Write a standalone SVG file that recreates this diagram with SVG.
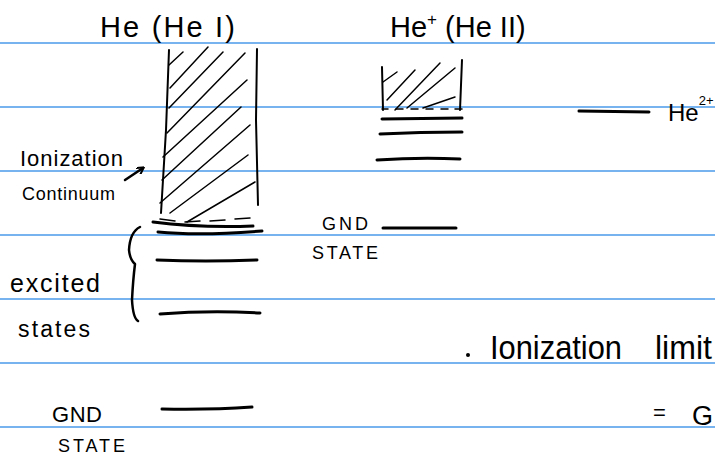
<svg xmlns="http://www.w3.org/2000/svg" width="715" height="458" viewBox="0 0 715 458">
<style>
.rule{stroke:#4a9ae8;stroke-width:1.5}
.ink{stroke:#000;fill:none;stroke-linecap:round;stroke-linejoin:round}
.thin{stroke-width:1.5}
.lvl{stroke-width:3}
.t{font-family:"Liberation Sans",Arial,sans-serif;fill:#000}
.big{font-size:29px}
.mid{font-size:22px}
.sm{font-size:18px}
</style>
<defs>
<marker id="ah" markerWidth="8" markerHeight="8" refX="6" refY="4" orient="auto" markerUnits="userSpaceOnUse">
<path d="M0,0 L7,4 L0,8" fill="none" stroke="#000" stroke-width="2"/>
</marker>
</defs>
<rect width="715" height="458" fill="#fff"/>
<g id="rules">
<line class="rule" x1="0" y1="43" x2="715" y2="43"/>
<line class="rule" x1="0" y1="107" x2="715" y2="107"/>
<line class="rule" x1="0" y1="171" x2="715" y2="171"/>
<line class="rule" x1="0" y1="235" x2="715" y2="235"/>
<line class="rule" x1="0" y1="299" x2="715" y2="299"/>
<line class="rule" x1="0" y1="363" x2="715" y2="363"/>
<line class="rule" x1="0" y1="427" x2="715" y2="427"/>
</g>
<g id="heI-title"><text class="t big" x="100" y="37" textLength="135" lengthAdjust="spacing">He (He I)</text></g>
<g id="heII-title"><text class="t big" x="390" y="37">He<tspan font-size="17" dy="-12">+</tspan><tspan dy="12"> (He II)</tspan></text></g>
<g id="heI-continuum" class="ink">
<path stroke-width="2" d="M169,50 L166,130 L161,213"/>
<path stroke-width="2" d="M257,49 L256,120 L258,205"/>
<path class="thin" d="M169,65 L183,52 M170,88 L208,47 M169,108 L223,52 M167,133 L245,53 M163,157 L247,80 M162,180 L241,107 M160,203 L250,125 M170,213 L248,155 M187,222 L255,182"/>
<path class="thin" d="M160,219 L175,221 M185,222 L200,221 M210,221 L225,220 M235,219 L250,218"/>
</g>
<g id="heI-levels" class="ink">
<path class="lvl" d="M153,222 Q200,228 253,226"/>
<path class="lvl" d="M158,232 Q200,236 262,231"/>
<path class="lvl" d="M157,260 Q205,262 257,260"/>
<path class="lvl" d="M160,314 Q210,310 260,313"/>
<path class="lvl" d="M162,409 Q210,410 252,407"/>
</g>
<g id="brace" class="ink"><path stroke-width="2.5" d="M140,227 Q130,232 129,250 Q130,260 135,264 Q133,280 132,300 Q133,318 138,321"/></g>
<g id="label-ionization"><text class="t mid" x="20" y="166" textLength="103" lengthAdjust="spacing">Ionization</text><text class="t sm" x="22" y="200" textLength="93" lengthAdjust="spacing">Continuum</text></g>
<g id="connectors"><line class="ink" stroke-width="2.5" x1="125" y1="180" x2="143" y2="168" marker-end="url(#ah)"/></g>
<g id="label-excited"><text class="t" font-size="25" x="10" y="292" textLength="90" lengthAdjust="spacing">excited</text><text class="t" font-size="23" x="18" y="337" textLength="72" lengthAdjust="spacing">states</text></g>
<g id="label-gnd1"><text class="t mid" x="52" y="422" textLength="50" lengthAdjust="spacing">GND</text><text class="t sm" x="58" y="452" textLength="67" lengthAdjust="spacing">STATE</text></g>
<g id="heII-continuum" class="ink">
<path stroke-width="2" d="M382,67 L383,110 M462,60 L460,110"/>
<path class="thin" d="M383,82 L397,72 M387,100 L415,70 M395,110 L440,63 M407,108 L455,68 M423,108 L455,97"/>
<path class="thin" d="M382,109 L388,109 M396,109 L403,109 M411,109 L418,109 M426,109 L433,109 M441,109 L448,109 M455,109 L462,109"/>
</g>
<g id="heII-levels" class="ink">
<path class="lvl" d="M382,119 L462,118"/>
<path class="lvl" d="M380,134 Q420,132 462,132"/>
<path class="lvl" d="M377,160 Q420,157 460,159"/>
<path class="lvl" d="M383,228 L456,228"/>
</g>
<g id="label-gnd2"><text class="t sm" x="322" y="230" textLength="46" lengthAdjust="spacing">GND</text><text class="t sm" x="312" y="259" textLength="66" lengthAdjust="spacing">STATE</text></g>
<g id="he2plus" class="ink"><path class="lvl" d="M579,111 L649,112"/></g>
<g id="label-he2plus"><text class="t" font-size="24" x="668" y="121">He<tspan font-size="13" dy="-16">2+</tspan></text></g>
<g id="note">
<circle cx="468" cy="355" r="2" fill="#000"/>
<text class="t" font-size="34" x="490" y="359" textLength="132" lengthAdjust="spacingAndGlyphs">Ionization</text>
<text class="t" font-size="34" x="655" y="359" textLength="57" lengthAdjust="spacingAndGlyphs">limit</text>
<text class="t mid" x="653" y="420">=</text>
<text class="t" font-size="27" x="692" y="425">G</text>
</g>
</svg>
